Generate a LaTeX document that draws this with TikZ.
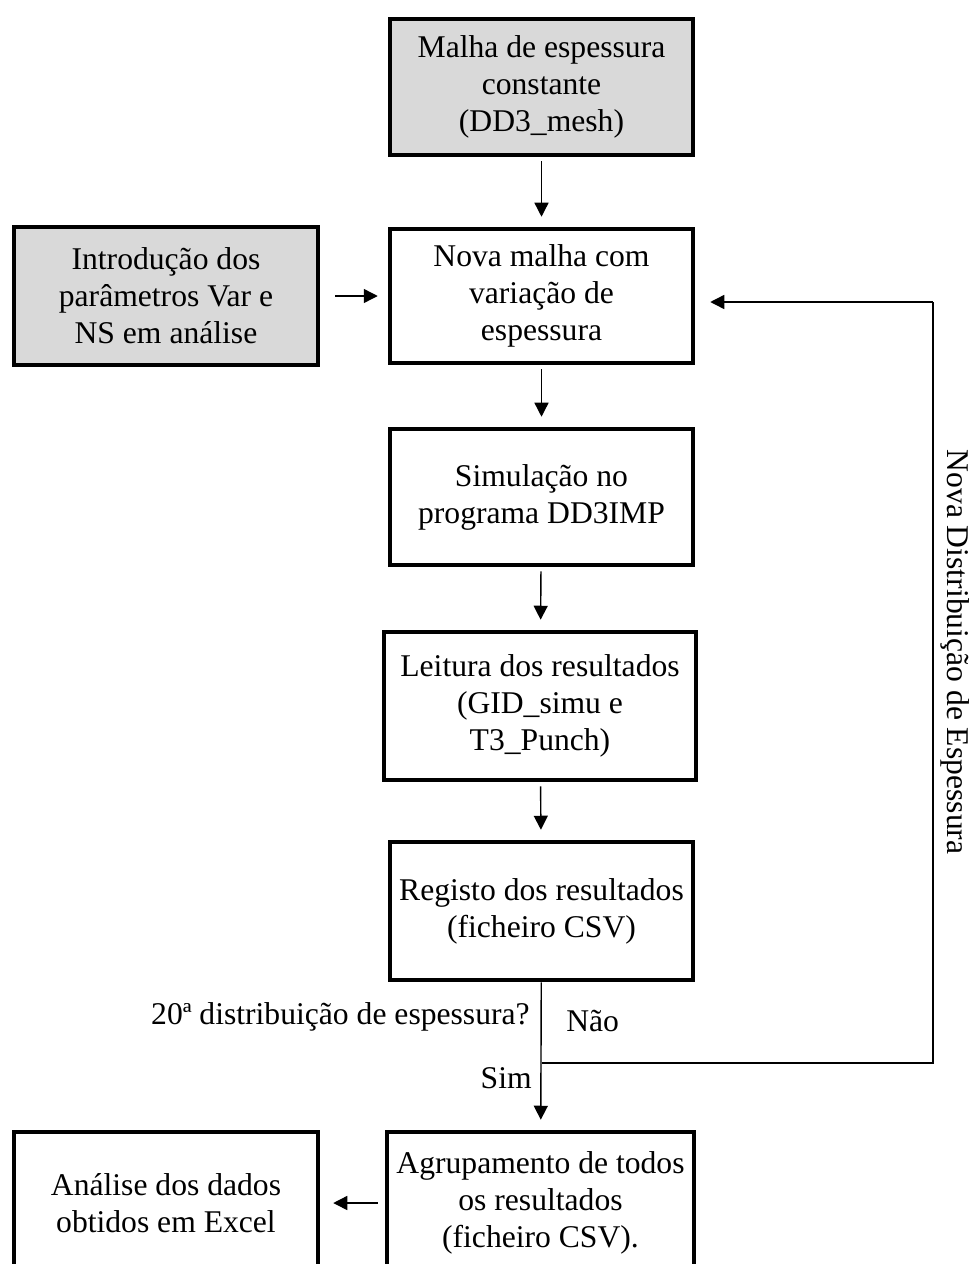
\documentclass[tikz,border=0pt]{standalone}
\usepackage{fontspec}
\setmainfont{Liberation Serif}
\usetikzlibrary{arrows.meta}
\def\px{0.02cm}
\colorlet{input fill}{black!15}
\colorlet{box edge}{black}
\tikzset{
  flow/.style={draw, line width=0.8pt, -{Triangle[width=0.28cm,length=0.28cm]}},
  loop line/.style={draw, line width=0.8pt}
  }
\tikzstyle{process} = [draw=box edge, line width=2.6pt, fill=white, align=center, inner sep=0pt, minimum width=6.06cm, minimum height=2.72cm, font=\fontsize{18}{21}\selectfont]
\tikzstyle{input} = [process, fill=input fill]
\tikzstyle{label} = [inner sep=0pt, font=\fontsize{18}{21}\selectfont]

\begin{document}
\begin{tikzpicture}[x=\px, y=-\px]
    \useasboundingbox (0,0) rectangle (970,1264);
    \clip (0,0) rectangle (970,1264);

    \node[input] (mesh) at (541.5,87) {Malha de espessura\\constante\\(DD3\_mesh)};
    \node[input, minimum width=6.08cm, minimum height=2.76cm] (params) at (166,296) {Introdução dos\\parâmetros Var e\\NS em análise};
    \node[process, minimum height=2.68cm] (newmesh) at (541.5,296) {Nova malha com\\variação de\\espessura};
    \node[process] (sim) at (541.5,497) {Simulação no\\programa DD3IMP};
    \node[process, minimum width=6.24cm, minimum height=2.96cm] (read) at (540,706) {Leitura dos resultados\\(GID\_simu e\\T3\_Punch)};
    \node[process, minimum height=2.76cm] (reg) at (541.5,911) {Registo dos resultados\\(ficheiro CSV)};
    \node[process, minimum width=6.14cm, minimum height=2.84cm] (group) at (540.5,1203) {Agrupamento de todos\\os resultados\\(ficheiro CSV).};
    \node[process, minimum width=6.08cm, minimum height=2.84cm] (analysis) at (166,1203) {Análise dos dados\\obtidos em Excel};

    \foreach \source/\sink in {mesh/newmesh, newmesh/sim, sim/read, read/reg}
      \path[flow, shorten <=0.08cm, shorten >=0.2cm] (\source) -- (\sink);
    \path[flow, shorten >=0.2cm] (reg) -- (group);
    \path[flow, shorten <=0.3cm, shorten >=0.2cm] (params) -- (newmesh);
    \path[flow, shorten <=0.14cm, shorten >=0.26cm] (group) -- (analysis);

    % return path of the loop
    \coordinate (branch) at (reg.south |- 0,1063);
    \coordinate (loopbot) at (933,1063);
    \coordinate (looptop) at (933,302);
    \path[loop line] (branch) -- (loopbot) -- (looptop);
    \path[flow, shorten >=0.3cm] (looptop) -- (looptop -| newmesh.east);

    \node[label, anchor=east] (question) at (530,1017) {20ª distribuição de espessura?};
    \node[label, anchor=west] (no) at (566,1021) {Não};
    \node[label, anchor=east] (yes) at (532,1078) {Sim};
    \node[label, rotate=-90] (newdist) at (955,652) {Nova Distribuição de Espessura};

\end{tikzpicture}
\end{document}
